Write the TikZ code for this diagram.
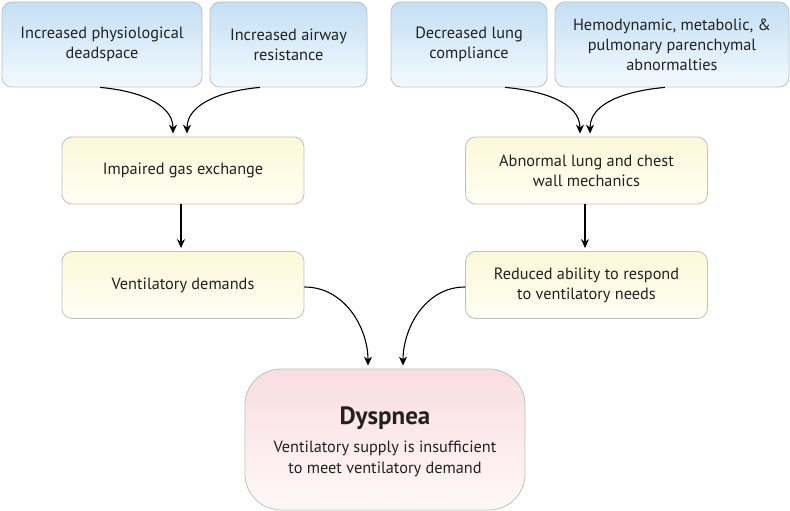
\documentclass[tikz,border=0pt]{standalone}
\usepackage{fontspec}
\setmainfont{PT Sans}
\usetikzlibrary{arrows.meta}
\definecolor{bluetop}{HTML}{C3DFF4}
\definecolor{bluebot}{HTML}{F4FAFE}
\definecolor{yeltop}{HTML}{FCF8D8}
\definecolor{yelbot}{HTML}{FFFEF4}
\definecolor{pinktop}{HTML}{F9DDE0}
\definecolor{pinkbot}{HTML}{FFF8F8}
\definecolor{edge}{HTML}{B9C3C8}
\definecolor{txt}{HTML}{222222}
\tikzset{
  box/.style={draw=edge, line width=0.8pt, rounded corners=10pt, align=center,
    text=txt, font=\fontsize{16.3}{20}\selectfont, inner sep=0pt},
  bluebox/.style={box, top color=bluetop, bottom color=bluebot},
  yelbox/.style={box, top color=yeltop, bottom color=yelbot, minimum width=242pt, minimum height=67pt},
  pinkbox/.style={box, top color=pinktop, bottom color=pinkbot, rounded corners=36pt},
  arr/.style={line width=1.1pt, -{Stealth[length=9pt,width=8pt]}, shorten >=3pt}
}
\begin{document}
\begin{tikzpicture}[x=1pt,y=1pt]
\useasboundingbox[fill=white] (0,0) rectangle (790,-511);
\node[bluebox, minimum width=200pt, minimum height=85pt] (A) at (102,-44.5) {Increased physiological\\deadspace};
\node[bluebox, minimum width=157pt, minimum height=85pt] (B) at (288.5,-44.5) {Increased airway\\resistance};
\node[bluebox, minimum width=156pt, minimum height=85pt] (C) at (469,-44.5) {Decreased lung\\compliance};
\node[bluebox, minimum width=234pt, minimum height=85pt] (D) at (672,-44.5) {Hemodynamic, metabolic, \&\\pulmonary parenchymal\\abnormalties};
\node[yelbox] (E) at (183,-170.5) {Impaired gas exchange};
\node[yelbox] (F) at (183,-285) {Ventilatory demands};
\node[yelbox] (G) at (586.5,-170.5) {Abnormal lung and chest\\wall mechanics};
\node[yelbox] (H) at (586.5,-285) {Reduced ability to respond\\to ventilatory needs};
\node[pinkbox, minimum width=280pt, minimum height=141pt] (I) at (385,-439.5) {};
\node[text=txt, font=\fontsize{25}{28}\selectfont\bfseries] (T) at (385,-418) {Dyspnea};
\node[text=txt, align=center, font=\fontsize{16.3}{21}\selectfont] (S) at (385,-459) {Ventilatory supply is insufficient\\to meet ventilatory demand};
\draw[arr] ([xshift=-2pt]A.south) to[out=-5,in=90] ([xshift=-10pt]E.north);
\draw[arr] ([xshift=-28.5pt]B.south) to[out=185,in=90] ([xshift=4pt]E.north);
\draw[arr] ([xshift=36pt]C.south) to[out=-5,in=90] ([xshift=-6.5pt]G.north);
\draw[arr] ([xshift=-7pt]D.south) to[out=185,in=90] ([xshift=3.5pt]G.north);
\draw[arr] ([xshift=-2pt]E.south) -- ([xshift=-2pt]F.north);
\draw[arr] ([xshift=-1.5pt]G.south) -- ([xshift=-1.5pt]H.north);
\draw[arr] ([yshift=-2pt]F.east) to[out=0,in=90] ([xshift=-17pt]I.north);
\draw[arr] ([yshift=-2pt]H.west) to[out=180,in=90] ([xshift=18pt]I.north);
\end{tikzpicture}
\end{document}
